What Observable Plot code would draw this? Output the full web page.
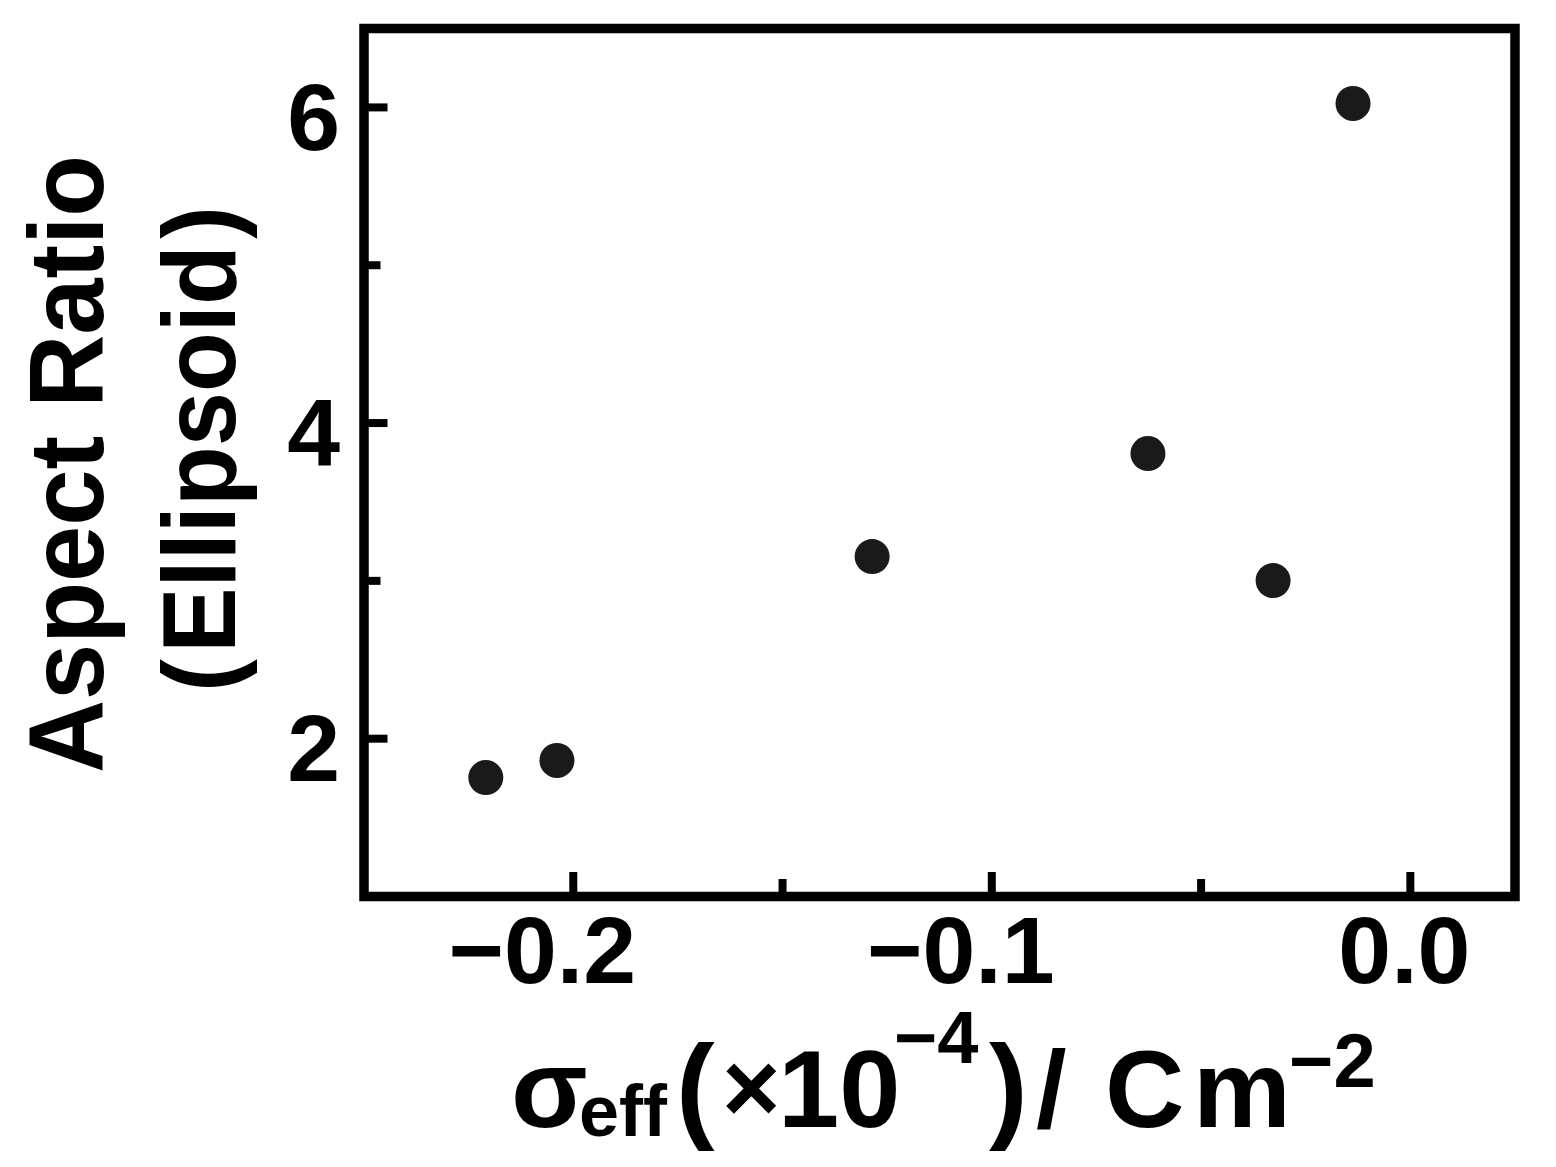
<!DOCTYPE html>
<html>
<head>
<meta charset="utf-8">
<script src="https://cdn.jsdelivr.net/npm/d3@7"></script>
<script src="https://cdn.jsdelivr.net/npm/@observablehq/plot@0.6"></script>
<style>
  html, body { margin: 0; padding: 0; background: #fff; }
  #chart svg { display: block; }
</style>
</head>
<body>
<div id="chart"></div>
<script>
// ---- data ----
const sigmaEff = [-0.2209, -0.2039, -0.1286, -0.0627, -0.0328, -0.0137]; // ×10^-4 C m^-2
const aspectRatio = [1.754, 1.862, 3.154, 3.807, 3.002, 6.025];
const xMajorTicks = [-0.2, -0.1, 0.0];
const xMinorTicks = [-0.15, -0.05];
const yMajorTicks = [2, 4, 6];
const yMinorTicks = [3, 5];
const xDomain = [-0.25, 0.025];
const yDomain = [1, 6.5];

const points = sigmaEff.map((x, i) => ({x, y: aspectRatio[i]}));

const W = 1556, H = 1167;
const mL = 363.5, mR = 41.5, mT = 28, mB = 271;
const innerW = W - mL - mR, innerH = H - mT - mB;
const fmt = d3.format(".1f");

const plot = Plot.plot({
  width: W,
  height: H,
  marginLeft: mL,
  marginRight: mR,
  marginTop: mT,
  marginBottom: mB,
  style: {fontFamily: "'Liberation Sans', Arial, sans-serif", fontWeight: "bold", color: "#000", background: "#fff"},
  x: {domain: xDomain},
  y: {domain: yDomain},
  marks: [
    Plot.frame({stroke: "#000", strokeWidth: 9.5}),
    Plot.tickX(xMajorTicks, {x: d => d, stroke: "#000", strokeWidth: 8, insetTop: innerH - 24}),
    Plot.tickX(xMinorTicks, {x: d => d, stroke: "#000", strokeWidth: 8, insetTop: innerH - 17}),
    Plot.tickY(yMajorTicks, {y: d => d, stroke: "#000", strokeWidth: 8, insetRight: innerW - 24}),
    Plot.tickY(yMinorTicks, {y: d => d, stroke: "#000", strokeWidth: 8, insetRight: innerW - 17}),
    Plot.axisX(xMajorTicks.filter(d => d < 0), {tickSize: 0, tickPadding: 19, tickFormat: fmt, fontSize: 95, fontWeight: "bold", dx: -31, label: null}),
    Plot.axisX(xMajorTicks.filter(d => d >= 0), {tickSize: 0, tickPadding: 19, tickFormat: fmt, fontSize: 95, fontWeight: "bold", dx: -6, label: null}),
    Plot.axisY(yMajorTicks, {tickSize: 0, tickPadding: 24, tickFormat: d => String(d), fontSize: 95, fontWeight: "bold", dy: 12, label: null}),
    Plot.dot(points, {x: "x", y: "y", r: 17.5, fill: "#1a1a1a", stroke: "none"})
  ]
});

document.getElementById("chart").appendChild(plot);

const svg = d3.select(plot);
const FF = "'Liberation Sans', Arial, sans-serif";

// y-axis title (two rotated lines)
svg.append("text")
  .attr("transform", "translate(103,464) rotate(-90) scale(0.954,1)")
  .attr("text-anchor", "middle")
  .attr("font-family", FF).attr("font-weight", "bold").attr("font-size", 106)
  .attr("fill", "#000")
  .text("Aspect Ratio");
const ell = svg.append("text")
  .attr("transform", "translate(235,449) rotate(-90) scale(0.94,1)")
  .attr("text-anchor", "middle")
  .attr("font-family", FF).attr("font-weight", "bold").attr("font-size", 104)
  .attr("fill", "#000");
ell.append("tspan").text("(");
ell.append("tspan").attr("dx", 7).text("Ellipsoid");
ell.append("tspan").attr("dx", 7).text(")");

// x-axis title: σ_eff (×10^−4) / Cm^−2
const xt = svg.append("text")
  .attr("text-anchor", "start")
  .attr("font-family", FF).attr("font-weight", "bold").attr("fill", "#000");
const parts = [
  {t: "σ", x: 511, y: 1127, fs: 112},
  {t: "eff", x: 579, y: 1136, fs: 72},
  {t: "(", x: 676, y: 1127, fs: 116},
  {t: "×", x: 722, y: 1122, fs: 100},
  {t: "10", x: 778, y: 1127, fs: 110},
  {t: "−4", x: 894, y: 1063, fs: 74},
  {t: ")", x: 989, y: 1127, fs: 116},
  {t: "/", x: 1036, y: 1127, fs: 110},
  {t: "C", x: 1105, y: 1127, fs: 110},
  {t: "m", x: 1193, y: 1127, fs: 110},
  {t: "−2", x: 1289, y: 1087, fs: 76}
];
for (const p of parts) {
  xt.append("tspan").attr("x", p.x).attr("y", p.y).attr("font-size", p.fs).attr("text-anchor", "start").text(p.t);
}
</script>
</body>
</html>
